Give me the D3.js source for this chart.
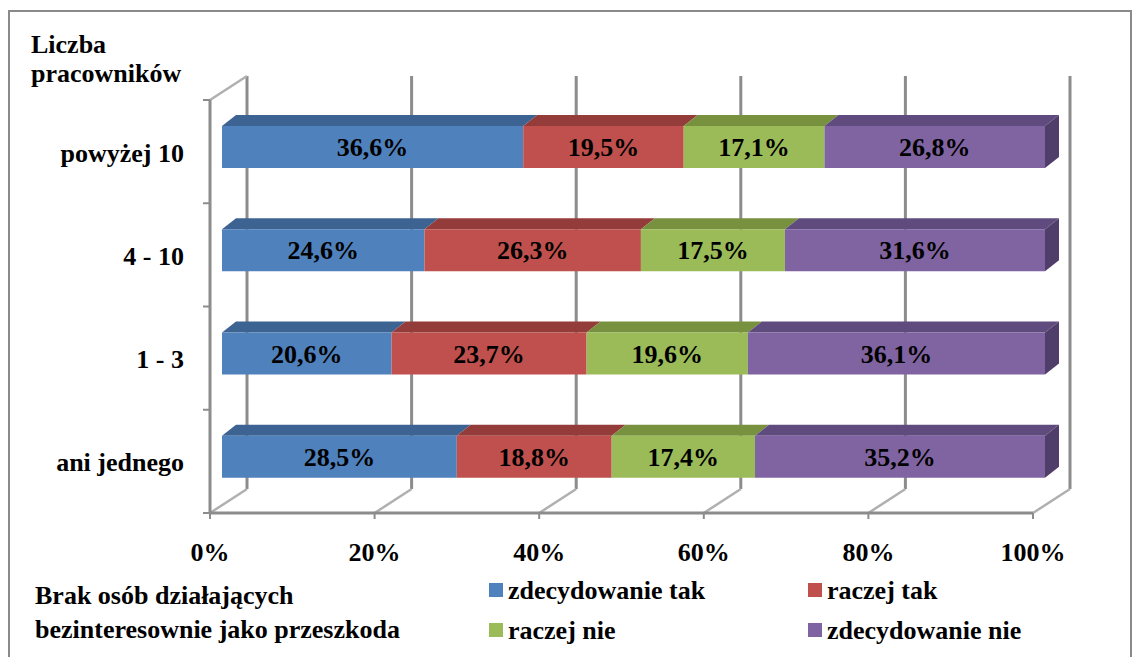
<!DOCTYPE html>
<html>
<head>
<meta charset="utf-8">
<script src="https://cdn.jsdelivr.net/npm/d3@7"></script>
<style>
  body { margin: 0; background: #fff; }
</style>
</head>
<body>
<svg id="viz" width="1139" height="657"></svg>
<script>
// data
var categories = ['powyżej 10', '4 - 10', '1 - 3', 'ani jednego'];
var series = ['zdecydowanie tak', 'raczej tak', 'raczej nie', 'zdecydowanie nie'];
var zdecydowanieTak = [36.6, 24.6, 20.6, 28.5];
var raczejTak = [19.5, 26.3, 23.7, 18.8];
var raczejNie = [17.1, 17.5, 19.6, 17.4];
var zdecydowanieNie = [26.8, 31.6, 36.1, 35.2];
var tickLabels = ['0%', '20%', '40%', '60%', '80%', '100%'];

var colors = ['#4f81bd', '#c0504d', '#9bbb59', '#8064a2'];
var topColors = ['#3d6392', '#933c3a', '#77913f', '#604b7e'];
var sideColor = '#4f3e69';

var svg = d3.select('#viz');

// serif bold text helper
function label(sel) {
  return sel
    .attr('font-family', 'Liberation Serif')
    .attr('font-weight', 'bold')
    .attr('font-size', 26)
    .attr('fill', '#000');
}

// outer frame
svg.append('rect')
  .attr('x', 9).attr('y', 11)
  .attr('width', 1122).attr('height', 700)
  .attr('fill', 'none')
  .attr('stroke', '#8a8a8a')
  .style('stroke-width', '2px');

var rows = categories.map(function (c, i) {
  return {
    cat: c,
    'zdecydowanie tak': zdecydowanieTak[i],
    'raczej tak': raczejTak[i],
    'raczej nie': raczejNie[i],
    'zdecydowanie nie': zdecydowanieNie[i]
  };
});

var stacked = d3.stack().keys(series).offset(d3.stackOffsetExpand)(rows);

var x = d3.scaleLinear().domain([0, 1]).range([210, 1033]);
var y = d3.scaleBand().domain(categories).range([100, 513]);

// depth offsets
var wallDx = 37, wallDy = -24;
var barDx = 12, barTop = 26, barH = 42, depthX = 14, depthY = -11;
var gridColor = '#8c8c8c';
var ticks = x.ticks(5);

// back wall gridlines
svg.selectAll('.grid')
  .data(ticks)
  .join('line')
  .attr('x1', (d) => x(d) + wallDx)
  .attr('x2', (d) => x(d) + wallDx)
  .attr('y1', 100 + wallDy)
  .attr('y2', 513 + wallDy)
  .attr('stroke', gridColor)
  .style('stroke-width', '3px');

// floor diagonals
svg.selectAll('.floor')
  .data(ticks)
  .join('line')
  .attr('x1', (d) => x(d))
  .attr('y1', 513)
  .attr('x2', (d) => x(d) + wallDx)
  .attr('y2', 513 + wallDy)
  .attr('stroke', '#b0b0b0')
  .style('stroke-width', '2.5px');

// left wall top edge
svg.append('line')
  .attr('x1', x(0)).attr('y1', 100)
  .attr('x2', x(0) + wallDx).attr('y2', 100 + wallDy)
  .attr('stroke', '#b0b0b0')
  .style('stroke-width', '2.5px');

// front left axis
svg.append('line')
  .attr('x1', x(0)).attr('x2', x(0))
  .attr('y1', 100).attr('y2', 513)
  .attr('stroke', gridColor)
  .style('stroke-width', '3px');

svg.selectAll('.ytick')
  .data(categories.map((c) => y(c)).concat([513]))
  .join('line')
  .attr('x1', x(0) - 7).attr('x2', x(0))
  .attr('y1', (d) => d).attr('y2', (d) => d)
  .attr('stroke', gridColor)
  .style('stroke-width', '2px');

// front floor edge with ticks
svg.append('line')
  .attr('x1', x(0)).attr('x2', x(1))
  .attr('y1', 513).attr('y2', 513)
  .attr('stroke', gridColor)
  .style('stroke-width', '3px');

svg.selectAll('.xtick')
  .data(ticks)
  .join('line')
  .attr('x1', (d) => x(d)).attr('x2', (d) => x(d))
  .attr('y1', 513).attr('y2', 519)
  .attr('stroke', gridColor)
  .style('stroke-width', '2px');

// bars
var layers = svg.selectAll('.layer')
  .data(stacked)
  .join('g')
  .attr('class', 'layer');

layers.each(function (layer, li) {
  var g = d3.select(this);
  layer.forEach(function (d) {
    var x0 = x(d[0]) + barDx, x1 = x(d[1]) + barDx;
    var top = y(d.data.cat) + barTop;
    // top face
    g.append('path')
      .attr('d', 'M' + x0 + ',' + top + 'L' + x1 + ',' + top +
        'L' + (x1 + depthX) + ',' + (top + depthY) +
        'L' + (x0 + depthX) + ',' + (top + depthY) + 'Z')
      .attr('fill', topColors[li]);
    // front face
    g.append('rect')
      .attr('x', x0).attr('y', top)
      .attr('width', x1 - x0).attr('height', barH)
      .attr('fill', colors[li]);
    // right side on last series
    if (li == series.length - 1) {
      g.append('path')
        .attr('d', 'M' + x1 + ',' + top + 'L' + (x1 + depthX) + ',' + (top + depthY) +
          'L' + (x1 + depthX) + ',' + (top + barH + depthY) +
          'L' + x1 + ',' + (top + barH) + 'Z')
        .attr('fill', sideColor);
    }
  });
});

// data labels
var vals = [zdecydowanieTak, raczejTak, raczejNie, zdecydowanieNie];
layers.each(function (layer, li) {
  d3.select(this).selectAll('text')
    .data(layer)
    .join('text')
    .call(label)
    .attr('x', (d) => (x(d[0]) + x(d[1])) / 2 + barDx)
    .attr('y', (d) => y(d.data.cat) + barTop + barH / 2 + 9)
    .attr('text-anchor', 'middle')
    .text((d, i) => vals[li][i].toFixed(1).replace('.', ',') + '%');
});

// category labels
svg.selectAll('.cat')
  .data(categories)
  .join('text')
  .call(label)
  .attr('x', 184)
  .attr('y', (d) => y(d) + y.bandwidth() / 2 + 10)
  .attr('text-anchor', 'end')
  .text((d) => d);

// x tick labels
svg.selectAll('.xlab')
  .data(ticks)
  .join('text')
  .call(label)
  .attr('x', (d) => x(d))
  .attr('y', 561)
  .attr('text-anchor', 'middle')
  .text((d, i) => tickLabels[i]);

// axis titles
svg.append('text').call(label).attr('x', 31).attr('y', 53).text('Liczba');
svg.append('text').call(label).attr('x', 31).attr('y', 82).text('pracowników');
svg.append('text').call(label).attr('x', 35).attr('y', 604).text('Brak osób działających');
svg.append('text').call(label).attr('x', 35).attr('y', 638).text('bezinteresownie jako przeszkoda');

// legend
var legendPos = [[489, 583], [808, 583], [489, 623], [808, 623]];
series.forEach(function (s, i) {
  svg.append('rect')
    .attr('x', legendPos[i][0]).attr('y', legendPos[i][1])
    .attr('width', 14).attr('height', 14)
    .attr('fill', colors[i]);
  svg.append('text')
    .call(label)
    .attr('x', legendPos[i][0] + 19)
    .attr('y', legendPos[i][1] + 16)
    .text(s);
});
</script>
</body>
</html>
